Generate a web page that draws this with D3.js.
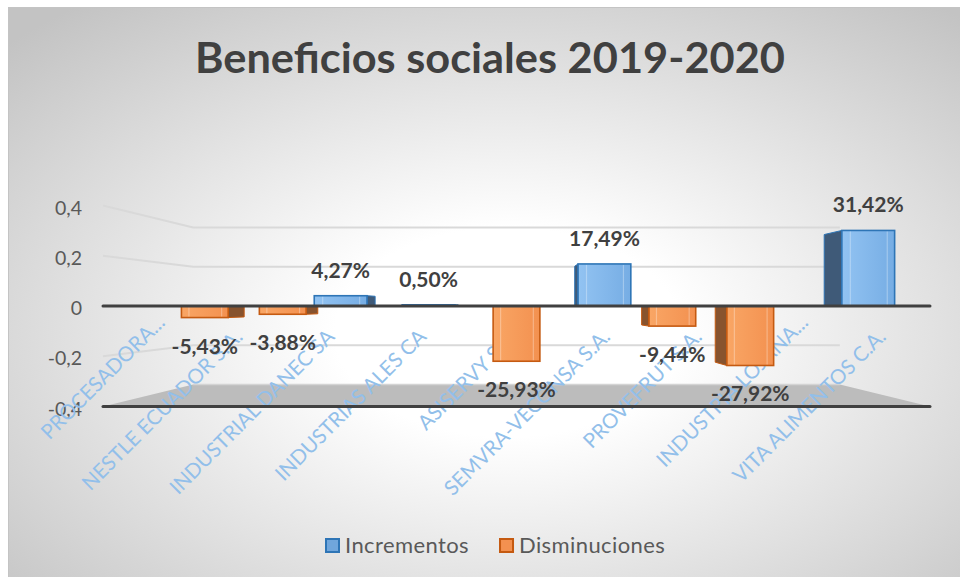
<!DOCTYPE html>
<html>
<head>
<meta charset="utf-8">
<script src="https://cdn.jsdelivr.net/npm/d3@7.9.0/dist/d3.min.js"></script>
<style>
  html, body { margin: 0; padding: 0; background: #fff; }
  svg { display: block; font-family: Lato, "Open Sans", sans-serif; }
</style>
</head>
<body>
<svg id="chart" width="960" height="577"></svg>
<script>
const categories = [
  'PROCESADORA...', 'NESTLE ECUADOR S.A.', 'INDUSTRIAL DANEC SA', 'INDUSTRIAS ALES CA',
  'ASISERVY S.A.', 'SEMVRA-VECONSA S.A.', 'PROVEFRUT S.A.', 'INDUSTRIA LOJANA...', 'VITA ALIMENTOS C.A.'
];
const incrementos = [null, null, 0.0427, 0.0050, null, 0.1749, null, null, 0.3142];
const disminuciones = [-0.0543, -0.0388, null, null, -0.2593, null, -0.0944, -0.2792, null];
const yTicks = [-0.4, -0.2, 0, 0.2, 0.4];
const seriesNames = ['Incrementos', 'Disminuciones'];

const svg = d3.select('#chart');
const dash = (s) => s.replace('\u2212', '-').replace('.', ',');
const fmtPct = (v) => dash(d3.format('.2f')(v * 100)) + '%';
const fmtTick = (v) => (v === 0 ? '0' : dash(d3.format('.1f')(v)));

// background
const defs = svg.append('defs');
const bg = defs.append('radialGradient').attr('id', 'bg')
  .attr('cx', 0.52).attr('cy', 0.56).attr('r', 0.72);
bg.append('stop').attr('offset', 0.25).attr('stop-color', '#ffffff');
bg.append('stop').attr('offset', 1).attr('stop-color', '#c3c3c3');

const blueGrad = defs.append('linearGradient').attr('id', 'blueFace');
blueGrad.append('stop').attr('offset', 0).attr('stop-color', '#92c3f2');
blueGrad.append('stop').attr('offset', 1).attr('stop-color', '#76ade4');
const orangeGrad = defs.append('linearGradient').attr('id', 'orangeFace');
orangeGrad.append('stop').attr('offset', 0).attr('stop-color', '#f9a665');
orangeGrad.append('stop').attr('offset', 1).attr('stop-color', '#f39150');

svg.append('rect')
  .attr('x', 8.5).attr('y', 7.5).attr('width', 960).attr('height', 580)
  .attr('fill', 'url(#bg)').attr('stroke', '#c4c4c4');

// title
svg.append('text')
  .attr('x', 490).attr('y', 73)
  .attr('text-anchor', 'middle')
  .attr('font-size', 42).attr('font-weight', 700)
  .attr('fill', '#404040')
  .attr('textLength', 590).attr('lengthAdjust', 'spacingAndGlyphs')
  .text('Beneficios sociales 2019-2020');

// scales (front plane) + simple perspective toward the value-0 horizon
const x = d3.scaleBand().domain(categories).range([103, 930]).paddingInner(0.4).paddingOuter(0.2);
const y = d3.scaleLinear().domain([-0.4, 0.4]).range([406.5, 205.5]);
const vp = [(x.range()[0] + x.range()[1]) / 2, y(0)];
const wallDepth = 0.782;
const rows = [
  { name: 'Incrementos', values: incrementos, front: 0.957, back: 0.905,
    face: 'url(#blueFace)', side: '#3f5a78', stroke: '#2e75b6' },
  { name: 'Disminuciones', values: disminuciones, front: 0.848, back: 0.801,
    face: 'url(#orangeFace)', side: '#87532e', stroke: '#c55a11' }
];

function proj(px, py, s) {
  return [vp[0] + (px - vp[0]) * s, vp[1] + (py - vp[1]) * s];
}

const x0 = x.range()[0], x1 = x.range()[1];
const grid = svg.append('g');

// floor
const fl = [proj(x0, y(-0.4), 1), proj(x1, y(-0.4), 1), proj(x1, y(-0.4), wallDepth), proj(x0, y(-0.4), wallDepth)];
grid.append('polygon').attr('points', fl.map((p) => p.join(',')).join(' ')).attr('fill', '#bcbcbc');

// gridlines: left wall + back wall
yTicks.filter((t) => t !== 0 && t !== -0.4).forEach((t) => {
  const a = proj(x0, y(t), 1), b = proj(x0, y(t), wallDepth), c = proj(x1, y(t), wallDepth);
  grid.append('polyline')
    .attr('points', [a, b, c].map((p) => p.join(',')).join(' '))
    .attr('fill', 'none').attr('stroke', '#d9d9d9').attr('stroke-width', 2);
});
grid.append('line')
  .attr('x1', fl[3][0]).attr('x2', fl[2][0]).attr('y1', fl[3][1]).attr('y2', fl[3][1])
  .attr('stroke', '#d4d4d4').attr('stroke-width', 1.5);

// axis tick labels
svg.append('g').selectAll('text').data(yTicks).join('text')
  .attr('x', 82).attr('y', (d) => y(d) + 9)
  .attr('text-anchor', 'end')
  .attr('font-size', 19.5).attr('fill', '#595959')
  .text(fmtTick);

// category labels
svg.append('g').selectAll('text').data(categories).join('text')
  .attr('transform', (d) => `translate(${x(d) + x.bandwidth() / 2 + 3},338) rotate(-45)`)
  .attr('dx', (d) => (d.endsWith('...') ? 20 : 0))
  .attr('text-anchor', 'end')
  .attr('font-size', 20.5).attr('fill', '#92bfea')
  .text((d) => d);

// bars, back row first
const barsG = svg.append('g');
const labelsG = svg.append('g');
rows.slice().reverse().forEach((row) => {
  row.values.forEach((v, i) => {
    if (v === null) return;
    const c = categories[i];
    const bx0 = x(c), bx1 = x(c) + x.bandwidth();
    const by0 = y(0), by1 = y(v);
    const g = barsG.append('g');
    const poly = (pts) => pts.map((p) => p.join(',')).join(' ');
    // side face (inner side toward the vanishing point)
    let edge = null;
    if (bx1 < vp[0]) edge = bx1;
    else if (bx0 > vp[0]) edge = bx0;
    if (edge !== null) {
      g.append('polygon')
        .attr('points', poly([proj(edge, by0, row.front), proj(edge, by1, row.front),
          proj(edge, by1, row.back), proj(edge, by0, row.back)]))
        .attr('fill', row.side).attr('stroke', row.stroke).attr('stroke-width', 1)
        .attr('stroke-linejoin', 'round');
    }
    const a = proj(bx0, by1, row.front), b = proj(bx1, by0, row.front);
    g.append('rect')
      .attr('x', a[0]).attr('y', Math.min(a[1], b[1]))
      .attr('width', b[0] - a[0]).attr('height', Math.max(1, Math.abs(b[1] - a[1])))
      .attr('fill', row.face).attr('stroke', row.stroke).attr('stroke-width', 1.6);
    const w = b[0] - a[0];
    [0.16, 0.86].forEach((f) => {
      g.append('line')
        .attr('x1', a[0] + w * f).attr('x2', a[0] + w * f)
        .attr('y1', Math.min(a[1], b[1]) + 1).attr('y2', Math.max(a[1], b[1]) - 1)
        .attr('stroke', 'rgba(255,255,255,0.3)').attr('stroke-width', 1.2);
    });

    const cx = (a[0] + b[0]) / 2;
    labelsG.append('text')
      .attr('x', cx)
      .attr('y', v >= 0 ? a[1] - 18 : a[1] + 36)
      .attr('text-anchor', 'middle')
      .attr('font-size', 21).attr('font-weight', 700).attr('fill', '#404040')
      .text(fmtPct(v));
  });
});

// zero line and floor front edge
[0, -0.4].forEach((t) => {
  svg.append('line')
    .attr('x1', x0).attr('x2', x1).attr('y1', y(t)).attr('y2', y(t))
    .attr('stroke', '#404040').attr('stroke-width', 3).attr('stroke-linecap', 'round');
});
svg.node().appendChild(labelsG.node());

// legend
const legendColors = [{ fill: '#70a6dc', stroke: '#2e75b6' }, { fill: '#f39150', stroke: '#c55a11' }];
const legend = svg.append('g').attr('transform', 'translate(325,553)');
let lx = 0;
seriesNames.forEach((name, i) => {
  legend.append('rect')
    .attr('x', lx + 1).attr('y', -14).attr('width', 13).attr('height', 13)
    .attr('fill', legendColors[i].fill).attr('stroke', legendColors[i].stroke).attr('stroke-width', 2);
  const t = legend.append('text')
    .attr('x', lx + 20).attr('y', 0)
    .attr('font-size', 22).attr('letter-spacing', 0.4).attr('fill', '#595959')
    .text(name);
  lx += 20 + t.node().getComputedTextLength() + 30;
});
</script>
</body>
</html>
